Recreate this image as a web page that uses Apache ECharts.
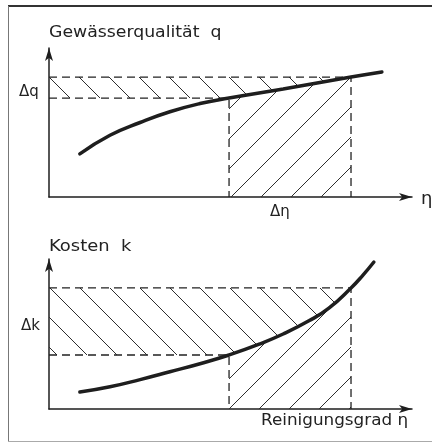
<!DOCTYPE html>
<html>
<head>
<meta charset="utf-8">
<title>Gewässerqualität und Kosten</title>
<script src="https://cdn.jsdelivr.net/npm/echarts@6/dist/echarts.min.js"></script>
<style>
html, body {
	margin: 0;
	padding: 0;
	background: #fff;
}
#chart {
	width: 432px;
	height: 443px;
}
</style>
</head>
<body>
<div id="chart"></div>
<script type="text/javascript">
    // Gewässerqualität q über Reinigungsgrad eta
    var qEta = [0.085, 0.168, 0.251, 0.333, 0.416, 0.496, 0.645, 0.832, 0.917];
    var qVal = [0.289, 0.414, 0.500, 0.572, 0.627, 0.664, 0.725, 0.805, 0.839];

    // Kosten k über Reinigungsgrad eta
    var kEta = [0.085, 0.168, 0.251, 0.333, 0.416, 0.496, 0.579, 0.645, 0.716, 0.771, 0.832, 0.865, 0.895];
    var kVal = [0.113, 0.148, 0.196, 0.248, 0.302, 0.360, 0.432, 0.500, 0.588, 0.672, 0.807, 0.893, 0.980];

    // Grenzen der Bereiche
    var eta1 = 0.496, eta2 = 0.832;
    var q1 = 0.664, q2 = 0.805;
    var k1 = 0.360, k2 = 0.807;

    var ink = '#1e1e1e';

    function pairs(xs, ys, a, b) {
        var out = [];
        for (var i = 0; i < xs.length; i++) {
            if (xs[i] >= a && xs[i] <= b) out.push([xs[i], ys[i]]);
        }
        return out;
    }

    // hatch pattern, 30px period, dir 1 = "/" , -1 = "\"
    function hatch(dir, c0) {
        var cv = document.createElement('canvas');
        cv.width = 30; cv.height = 30;
        var ctx = cv.getContext('2d');
        ctx.strokeStyle = '#2e2e2e';
        ctx.lineWidth = 1;
        [-30, 0, 30, 60].forEach(function (k) {
            var c = c0 + k;
            ctx.beginPath();
            if (dir > 0) {
                ctx.moveTo(c + 5, -5); ctx.lineTo(c - 35, 35);
            } else {
                ctx.moveTo(c - 5, -5); ctx.lineTo(c + 35, 35);
            }
            ctx.stroke();
        });
        return {image: cv, repeat: 'repeat'};
    }
    var slashFill = hatch(1, 8);
    var backFill = hatch(-1, 2);

    var dash = {color: '#222', width: 1.3, type: [8, 5]};

    function panelSeries(g, xs, ys, lo, hi) {
        var upperBand = [[0, lo], [eta1, lo]].concat(pairs(xs, ys, eta1 + 0.001, eta2));
        return [{
            // "\" hatch between lower dashed line / curve and upper dashed line
            type: 'line', xAxisIndex: g, yAxisIndex: g,
            data: upperBand, symbol: 'none', silent: true,
            lineStyle: {width: 0},
            areaStyle: {origin: hi, color: backFill, opacity: 1}
        }, {
            // "/" hatch below the curve
            type: 'line', xAxisIndex: g, yAxisIndex: g,
            data: pairs(xs, ys, eta1, eta2), symbol: 'none', silent: true,
            lineStyle: {width: 0},
            areaStyle: {origin: 'start', color: slashFill, opacity: 1}
        }, {
            type: 'line', xAxisIndex: g, yAxisIndex: g,
            data: [[0, hi], [eta2, hi], [eta2, 0]], symbol: 'none', silent: true,
            lineStyle: dash
        }, {
            type: 'line', xAxisIndex: g, yAxisIndex: g,
            data: [[0, lo], [eta1, lo], [eta1, 0]], symbol: 'none', silent: true,
            lineStyle: dash
        }, {
            type: 'line', xAxisIndex: g, yAxisIndex: g,
            data: pairs(xs, ys, 0, 1), symbol: 'none', smooth: 0.5, silent: true,
            lineStyle: {color: ink, width: 3.5, cap: 'round'}
        }];
    }

    function axis(g) {
        return {
            type: 'value', gridIndex: g, min: 0, max: 1,
            axisLine: {show: true, onZero: false, symbol: ['none', 'arrow'], symbolSize: [6, 13],
                lineStyle: {color: ink, width: 1.5}},
            axisTick: {show: false},
            axisLabel: {show: false},
            splitLine: {show: false}
        };
    }

    function txt(x, y, s, size, sx) {
        return {
            type: 'text', x: x, y: y, scaleX: sx || 1.08, silent: true,
            style: {text: s, fill: '#222', font: (size || 16) + 'px "DejaVu Sans"', verticalAlign: 'middle'}
        };
    }

    var chart = echarts.init(document.getElementById('chart'), null, {renderer: 'canvas'});

    var option = {
        animation: false,
        grid: [
            {left: 49, top: 48, width: 363, height: 149},
            {left: 49, top: 259, width: 363, height: 150}
        ],
        xAxis: [axis(0), axis(1)],
        yAxis: [axis(0), axis(1)],
        series: panelSeries(0, qEta, qVal, q1, q2).concat(panelSeries(1, kEta, kVal, k1, k2)),
        graphic: [
            // frame
            {type: 'line', shape: {x1: 8, y1: 6, x2: 432, y2: 6}, style: {stroke: '#333', lineWidth: 2}},
            {type: 'line', shape: {x1: 8.5, y1: 6, x2: 8.5, y2: 441}, style: {stroke: '#777', lineWidth: 1}},
            {type: 'line', shape: {x1: 8, y1: 441.5, x2: 432, y2: 441.5}, style: {stroke: '#aaa', lineWidth: 1}},
            txt(49, 33, 'Gewässerqualität  q'),
            txt(19, 92, 'Δq', 15, 1),
            txt(270, 212, 'Δη', 15, 1),
            txt(421, 199, 'η', 18, 1),
            txt(49, 247, 'Kosten  k', 16, 1.12),
            txt(21, 326, 'Δk', 15, 1),
            txt(261, 421, 'Reinigungsgrad η', 16, 1.05)
        ]
    };

    chart.setOption(option);
</script>
</body>
</html>
